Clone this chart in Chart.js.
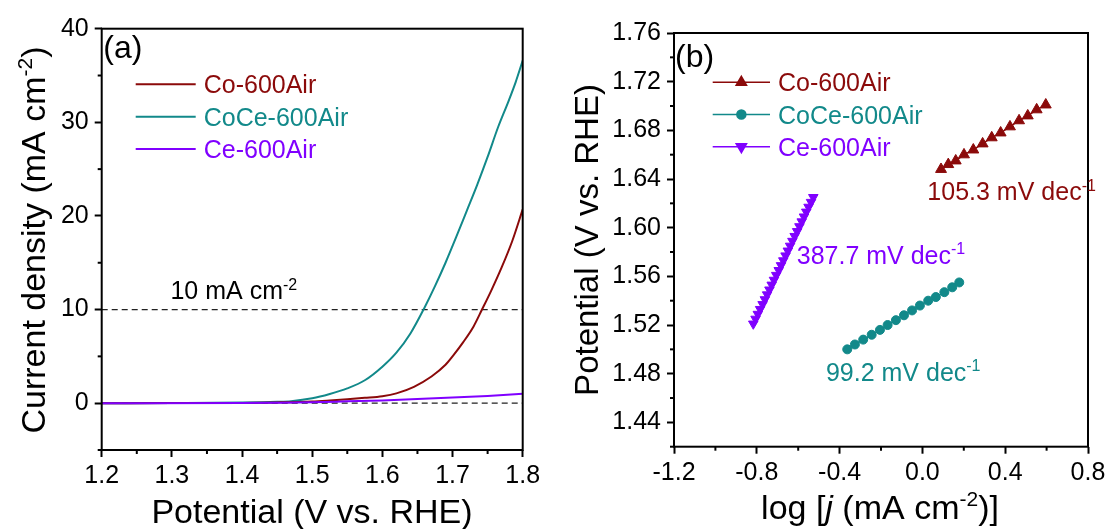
<!DOCTYPE html>
<html>
<head>
<meta charset="utf-8">
<script src="https://cdn.jsdelivr.net/npm/chart.js@4.4.0/dist/chart.umd.min.js"></script>
<style>
  html, body { margin: 0; padding: 0; background: #fff; }
  #wrap { position: relative; width: 1111px; height: 529px; overflow: hidden; }
  .panel { position: absolute; top: 0; height: 529px; }
  #panelA { left: 0; width: 555px; }
  #panelB { left: 555px; width: 556px; }
</style>
</head>
<body>
<div id="wrap">
  <div class="panel" id="panelA"><canvas id="chartA" width="555" height="529"></canvas></div>
  <div class="panel" id="panelB"><canvas id="chartB" width="556" height="529"></canvas></div>
</div>
<script>
'use strict';

const FONT = '"Liberation Sans", Arial, sans-serif';
const RED = '#8b0a0a';
const TEAL = '#12898a';
const PURPLE = '#8000ff';

const seriesNames = ['Co-600Air', 'CoCe-600Air', 'Ce-600Air'];

// (a) LSV curves, potential (V vs. RHE) against current density (mA cm-2)
const coV   = [1.20, 1.30, 1.40, 1.45, 1.50, 1.525, 1.55, 1.575, 1.60, 1.62, 1.645, 1.67, 1.69, 1.70, 1.715, 1.73, 1.742, 1.755, 1.77, 1.785, 1.80];
const coJ   = [0.00, 0.01, 0.03, 0.08, 0.18, 0.29, 0.42, 0.57, 0.75, 1.05, 1.75, 2.85, 4.10, 5.00, 6.50, 8.20, 10.0, 12.0, 14.5, 17.3, 20.7];
const cocV  = [1.20, 1.30, 1.40, 1.45, 1.47, 1.50, 1.525, 1.55, 1.575, 1.60, 1.62, 1.64, 1.66, 1.675, 1.69, 1.705, 1.72, 1.735, 1.75, 1.765, 1.78, 1.79, 1.80];
const cocJ  = [0.00, 0.02, 0.07, 0.15, 0.22, 0.52, 0.98, 1.58, 2.45, 3.90, 5.40, 7.45, 10.2, 12.5, 15.0, 17.7, 20.5, 23.3, 26.3, 29.5, 32.3, 34.3, 36.6];
const ceV   = [1.20, 1.40, 1.45, 1.50, 1.55, 1.60, 1.65, 1.70, 1.75, 1.80];
const ceJ   = [0.00, 0.02, 0.05, 0.10, 0.20, 0.30, 0.45, 0.60, 0.78, 1.00];
const refV  = [1.2, 1.8];
const refJ10 = [10, 10];
const refJ0  = [0, 0];

// (b) Tafel plots, log j against potential
const coLogJ  = [0.090, 0.125, 0.161, 0.201, 0.246, 0.291, 0.335, 0.378, 0.423, 0.467, 0.509, 0.552, 0.596];
const coTafV  = [1.648, 1.652, 1.655, 1.660, 1.664, 1.669, 1.674, 1.678, 1.683, 1.688, 1.692, 1.697, 1.701];
const cocLogJ = [-0.363, -0.326, -0.286, -0.245, -0.205, -0.168, -0.128, -0.089, -0.050, -0.012, 0.028, 0.065, 0.106, 0.144, 0.178];
const cocTafV = [1.500, 1.504, 1.508, 1.512, 1.516, 1.520, 1.524, 1.528, 1.532, 1.536, 1.540, 1.543, 1.547, 1.551, 1.555];
const ceLogJ  = [-0.817, -0.806, -0.795, -0.784, -0.772, -0.761, -0.750, -0.739, -0.728, -0.717, -0.706, -0.694, -0.683, -0.672,
                 -0.661, -0.650, -0.639, -0.628, -0.617, -0.605, -0.594, -0.583, -0.572, -0.561, -0.550, -0.538, -0.527];
const ceTafV  = [1.521, 1.525, 1.529, 1.533, 1.537, 1.541, 1.545, 1.549, 1.553, 1.557, 1.561, 1.565, 1.569, 1.573,
                 1.577, 1.581, 1.585, 1.589, 1.593, 1.597, 1.601, 1.605, 1.609, 1.613, 1.617, 1.621, 1.625];

// tick labels
const aTicksX = [1.2, 1.3, 1.4, 1.5, 1.6, 1.7, 1.8];
const aTicksY = [0, 10, 20, 30, 40];
const aMinorX = [1.25, 1.35, 1.45, 1.55, 1.65, 1.75];
const aMinorY = [-5, 5, 15, 25, 35];
const bTicksX = [-1.2, -0.8, -0.4, 0.0, 0.4, 0.8];
const bTicksY = [1.44, 1.48, 1.52, 1.56, 1.60, 1.64, 1.68, 1.72, 1.76];
const bMinorX = [-1.0, -0.6, -0.2, 0.2, 0.6];
const bMinorY = [1.42, 1.46, 1.50, 1.54, 1.58, 1.62, 1.66, 1.70, 1.74];

function toXY(xs, ys){
	return xs.map((x, i) => ({x: x, y: ys[i]}));
}

// draws text made of runs: {t, sup, it}
function drawRich(ctx, runs, x, y, size, align, color){
	const fontOf = r => (r.it ? 'italic ' : '') + (r.sup ? Math.round(size * 0.62) : size) + 'px ' + FONT;
	let total = 0;
	const widths = runs.map(r => {
		ctx.font = fontOf(r);
		let w = ctx.measureText(r.t).width;
		total += w;
		return w;
	});
	let cx = align === 'center' ? x - total / 2 : x;
	ctx.fillStyle = color;
	ctx.textAlign = 'left';
	ctx.textBaseline = 'alphabetic';
	runs.forEach((r, i) => {
		ctx.font = fontOf(r);
		ctx.fillText(r.t, cx, r.sup ? y - size * 0.38 : y);
		cx += widths[i];
	});
}

const decor = {
	id: 'decor',
	afterDraw(chart, args, opts){
		const ctx = chart.ctx;
		const area = chart.chartArea;
		const xs = chart.scales.x;
		const ys = chart.scales.y;
		ctx.save();

		// minor ticks
		ctx.strokeStyle = '#000';
		ctx.lineWidth = 2;
		opts.minorX.forEach(v => {
			let p = xs.getPixelForValue(v);
			ctx.beginPath(); ctx.moveTo(p, area.bottom); ctx.lineTo(p, area.bottom + 4); ctx.stroke();
		});
		opts.minorY.forEach(v => {
			let p = ys.getPixelForValue(v);
			ctx.beginPath(); ctx.moveTo(area.left, p); ctx.lineTo(area.left - 4, p); ctx.stroke();
		});

		// frame
		ctx.strokeRect(area.left, area.top, area.right - area.left, area.bottom - area.top);

		// panel tag
		drawRich(ctx, [{t: opts.tag}], area.left + opts.tagPos[0], area.top + opts.tagPos[1], 32, 'left', '#000');

		// legend
		opts.legend.forEach((item, i) => {
			let rowY = area.top + opts.legendTop + i * opts.legendGap;
			let x0 = area.left + opts.legendLeft;
			ctx.strokeStyle = item.color;
			ctx.lineWidth = item.marker ? 1.5 : 2;
			ctx.beginPath(); ctx.moveTo(x0, rowY); ctx.lineTo(x0 + opts.legendLine, rowY); ctx.stroke();
			if(item.marker){
				ctx.fillStyle = item.color;
				Chart.helpers.drawPoint(ctx, {pointStyle: item.marker, radius: item.radius, rotation: item.rotation || 0, borderWidth: 1},
					x0 + opts.legendLine / 2, rowY);
			}
			drawRich(ctx, [{t: item.label}], x0 + opts.legendLine + 8, rowY + 9, 25, 'left', item.color);
		});

		// notes placed at data coordinates
		opts.notes.forEach(n => {
			drawRich(ctx, n.runs, xs.getPixelForValue(n.x), ys.getPixelForValue(n.y), 25, 'left', n.color);
		});

		// axis titles
		drawRich(ctx, opts.xTitle, opts.xTitlePos[0], opts.xTitlePos[1], 34, 'center', '#000');
		ctx.translate(opts.yTitlePos[0], opts.yTitlePos[1]);
		ctx.rotate(-Math.PI / 2);
		drawRich(ctx, opts.yTitle, 0, 0, opts.yTitleSize, 'center', '#000');

		ctx.restore();
	}
};

function axis(min, max, ticks, digits, size, pos){
	return {
		type: 'linear',
		position: pos,
		min: min,
		max: max,
		afterBuildTicks: s => { s.ticks = ticks.map(v => ({value: v})); },
		afterFit: s => {
			if(pos === 'left'){ s.width = size; } else { s.height = size; }
		},
		ticks: {
			color: '#000',
			padding: pos === 'left' ? 6 : 4,
			font: {family: FONT, size: 25},
			maxRotation: 0,
			autoSkip: false,
			callback: v => Number(v).toFixed(digits)
		},
		grid: {drawOnChartArea: false, drawTicks: true, tickLength: 7, tickWidth: 2, tickColor: '#000'},
		border: {display: false}
	};
}

function lineSet(xs, ys, color){
	return {data: toXY(xs, ys), showLine: true, borderColor: color, borderWidth: 2, pointRadius: 0,
		tension: 0.4, cubicInterpolationMode: 'monotone', order: 1};
}

function refSet(ys){
	return {data: toXY(refV, ys), showLine: true, borderColor: '#222', borderWidth: 1.3, borderDash: [6, 4],
		pointRadius: 0, order: 5};
}

function tafelSet(xs, ys, color, style, radius, rotation){
	return {data: toXY(xs, ys), showLine: true, borderColor: color, backgroundColor: color, borderWidth: 1.5,
		pointStyle: style, pointRadius: radius, pointRotation: rotation, pointBorderWidth: 1};
}

new Chart(document.getElementById('chartA'), {
	type: 'scatter',
	data: {
		datasets: [
			refSet(refJ10),
			refSet(refJ0),
			lineSet(ceV, ceJ, PURPLE),
			lineSet(coV, coJ, RED),
			lineSet(cocV, cocJ, TEAL)
		]
	},
	options: {
		responsive: false,
		animation: false,
		layout: {padding: {left: 0, right: 32.3, top: 28.7, bottom: 0}},
		scales: {
			x: axis(1.2, 1.8, aTicksX, 1, 79, 'bottom'),
			y: axis(-5, 40, aTicksY, 0, 101.7, 'left')
		},
		plugins: {
			legend: {display: false},
			tooltip: {enabled: false},
			decor: {
				minorX: aMinorX,
				minorY: aMinorY,
				tag: '(a)',
				tagPos: [1.6, 29.6],
				legendLeft: 34, legendTop: 55.6, legendGap: 32.4, legendLine: 60,
				legend: [
					{label: seriesNames[0], color: RED},
					{label: seriesNames[1], color: TEAL},
					{label: seriesNames[2], color: PURPLE}
				],
				notes: [
					{x: 1.298, y: 11.1, color: '#000', runs: [{t: '10 mA cm'}, {t: '-2', sup: true}]}
				],
				xTitle: [{t: 'Potential (V vs. RHE)'}],
				xTitlePos: [312, 523],
				yTitle: [{t: 'Current density (mA cm'}, {t: '-2', sup: true}, {t: ')'}],
				yTitlePos: [45, 240],
				yTitleSize: 34
			}
		}
	},
	plugins: [decor]
});

new Chart(document.getElementById('chartB'), {
	type: 'scatter',
	data: {
		datasets: [
			tafelSet(coLogJ, coTafV, RED, 'triangle', 6.3, 0),
			tafelSet(cocLogJ, cocTafV, TEAL, 'circle', 4.5, 0),
			tafelSet(ceLogJ, ceTafV, PURPLE, 'triangle', 5.5, 180)
		]
	},
	options: {
		responsive: false,
		animation: false,
		layout: {padding: {left: 0, right: 23, top: 33, bottom: 0}},
		scales: {
			x: axis(-1.2, 0.8, bTicksX, 1, 82.3, 'bottom'),
			y: axis(1.42, 1.76, bTicksY, 2, 119, 'left')
		},
		plugins: {
			legend: {display: false},
			tooltip: {enabled: false},
			decor: {
				minorX: bMinorX,
				minorY: bMinorY,
				tag: '(b)',
				tagPos: [1, 33.6],
				legendLeft: 38.7, legendTop: 49.3, legendGap: 32.2, legendLine: 57.3,
				legend: [
					{label: seriesNames[0], color: RED, marker: 'triangle', radius: 6},
					{label: seriesNames[1], color: TEAL, marker: 'circle', radius: 4.5},
					{label: seriesNames[2], color: PURPLE, marker: 'triangle', radius: 6, rotation: 180}
				],
				notes: [
					{x: 0.024, y: 1.6226, color: RED, runs: [{t: '105.3 mV dec'}, {t: '-1', sup: true}]},
					{x: -0.607, y: 1.5705, color: PURPLE, runs: [{t: '387.7 mV dec'}, {t: '-1', sup: true}]},
					{x: -0.466, y: 1.4744, color: TEAL, runs: [{t: '99.2 mV dec'}, {t: '-1', sup: true}]}
				],
				xTitle: [{t: 'log ['}, {t: 'j', it: true}, {t: ' (mA cm'}, {t: '-2', sup: true}, {t: ')]'}],
				xTitlePos: [325, 519],
				yTitle: [{t: 'Potential (V vs. RHE)'}],
				yTitlePos: [43.3, 240],
				yTitleSize: 33
			}
		}
	},
	plugins: [decor]
});
</script>
</body>
</html>
